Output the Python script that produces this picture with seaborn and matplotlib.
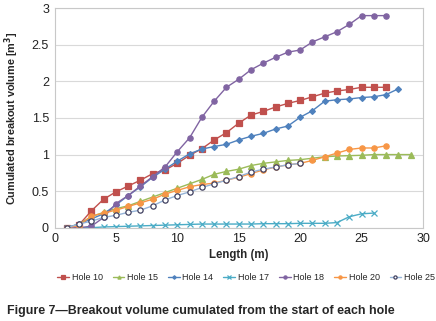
import matplotlib
matplotlib.use('Agg')
import matplotlib.pyplot as plt
import pandas as pd
import seaborn as sns

# 数据
hole10_x = list(range(1, 28))
hole10_y = [0.0, 0.04, 0.23, 0.39, 0.49, 0.57, 0.65, 0.74, 0.79, 0.88, 0.99, 1.08, 1.20, 1.30,
            1.43, 1.54, 1.59, 1.65, 1.70, 1.74, 1.79, 1.84, 1.87, 1.89, 1.92, 1.92, 1.92]

hole15_x = list(range(1, 30))
hole15_y = [0.0, 0.05, 0.15, 0.21, 0.26, 0.30, 0.36, 0.42, 0.48, 0.54, 0.60, 0.66, 0.73, 0.77,
            0.80, 0.85, 0.88, 0.90, 0.92, 0.93, 0.95, 0.97, 0.98, 0.985, 0.99, 1.0, 1.0, 1.0, 1.0]

hole14_x = list(range(1, 29))
hole14_y = [0.0, 0.05, 0.12, 0.19, 0.31, 0.44, 0.56, 0.69, 0.80, 0.91, 1.01, 1.075, 1.11, 1.14,
            1.20, 1.25, 1.29, 1.35, 1.39, 1.51, 1.60, 1.73, 1.75, 1.76, 1.78, 1.79, 1.82, 1.90]

hole17_x = list(range(1, 27))
hole17_y = [0.0, 0.0, 0.0, 0.01, 0.015, 0.02, 0.025, 0.03, 0.035, 0.04, 0.045, 0.05, 0.05, 0.05,
            0.05, 0.05, 0.055, 0.055, 0.055, 0.06, 0.06, 0.06, 0.07, 0.15, 0.19, 0.20]

hole18_x = list(range(1, 28))
hole18_y = [0.0, 0.0, 0.02, 0.14, 0.33, 0.44, 0.57, 0.70, 0.83, 1.04, 1.23, 1.51, 1.73, 1.92,
            2.03, 2.16, 2.25, 2.33, 2.40, 2.43, 2.54, 2.61, 2.68, 2.78, 2.90, 2.90, 2.90]

hole20_x = list(range(1, 28))
hole20_y = [0.0, 0.03, 0.16, 0.20, 0.24, 0.29, 0.34, 0.39, 0.46, 0.51, 0.56, 0.59, 0.61, 0.65,
            0.69, 0.74, 0.79, 0.83, 0.86, 0.88, 0.92, 0.97, 1.02, 1.07, 1.09, 1.09, 1.12]

hole25_x = list(range(1, 21))
hole25_y = [0.0, 0.05, 0.09, 0.14, 0.17, 0.21, 0.24, 0.30, 0.38, 0.44, 0.49, 0.55, 0.60, 0.65,
            0.70, 0.76, 0.80, 0.83, 0.86, 0.88]

series = [
    ('Hole 10', hole10_x, hole10_y, '#C0504D', 's', '#C0504D'),
    ('Hole 15', hole15_x, hole15_y, '#9BBB59', '^', '#9BBB59'),
    ('Hole 14', hole14_x, hole14_y, '#4F81BD', 'D', '#4F81BD'),
    ('Hole 17', hole17_x, hole17_y, '#4BACC6', 'x', '#4BACC6'),
    ('Hole 18', hole18_x, hole18_y, '#8064A2', 'o', '#8064A2'),
    ('Hole 20', hole20_x, hole20_y, '#F79646', 'o', '#F79646'),
    ('Hole 25', hole25_x, hole25_y, '#95B3D7', 'o', '#404060'),
]

sns.set_style('white')
plt.rcParams['font.family'] = ['Liberation Sans', 'DejaVu Sans']

fig = plt.figure(figsize=(4.36, 3.21), dpi=100)
ax = fig.add_axes([54.5 / 436, 1 - 227.7 / 321, (423 - 54.5) / 436, (227.7 - 8.3) / 321])

for name, xs, ys, col, mk, edge in series:
    df = pd.DataFrame({'x': xs, 'y': ys})
    face = 'white' if name == 'Hole 25' else col
    sz = 3.0 if mk == 'D' else 3.8
    sns.lineplot(data=df, x='x', y='y', ax=ax, color=col, linewidth=1.0,
                 marker=mk, markersize=sz, markerfacecolor=face,
                 markeredgecolor=edge, markeredgewidth=0.9,
                 label=name)

ax.set_xlim(0, 30)
ax.set_ylim(0, 3)
ax.set_xticks([0, 5, 10, 15, 20, 25, 30])
ax.set_yticks([0, 0.5, 1, 1.5, 2, 2.5, 3])
ax.set_yticklabels(['0', '0.5', '1', '1.5', '2', '2.5', '3'])
ax.yaxis.grid(True, color='#D9D9D9', linewidth=0.8)
ax.tick_params(axis='both', length=0, labelsize=9, pad=4, labelcolor='#222222')
for s in ax.spines.values():
    s.set_color('#C8C8C8')
    s.set_linewidth(0.8)

ax.set_xlabel('Length (m)', fontsize=8.3, fontweight='bold', labelpad=3)
ax.set_ylabel('Cumulated breakout volume [m$^\\mathbf{3}$]', fontsize=7.8, fontweight='bold', labelpad=8)

ax.legend(loc='upper center', bbox_to_anchor=(0.52, -0.17), ncol=7, frameon=False,
          fontsize=6.5, handlelength=1.3, handletextpad=0.3, columnspacing=1.1, markerscale=0.6)

fig.text(0.016, 0.022, 'Figure 7\u2014Breakout volume cumulated from the start of each hole',
         fontsize=8.9, fontweight='bold', ha='left', va='baseline')

fig.savefig('out.png', dpi=100)
